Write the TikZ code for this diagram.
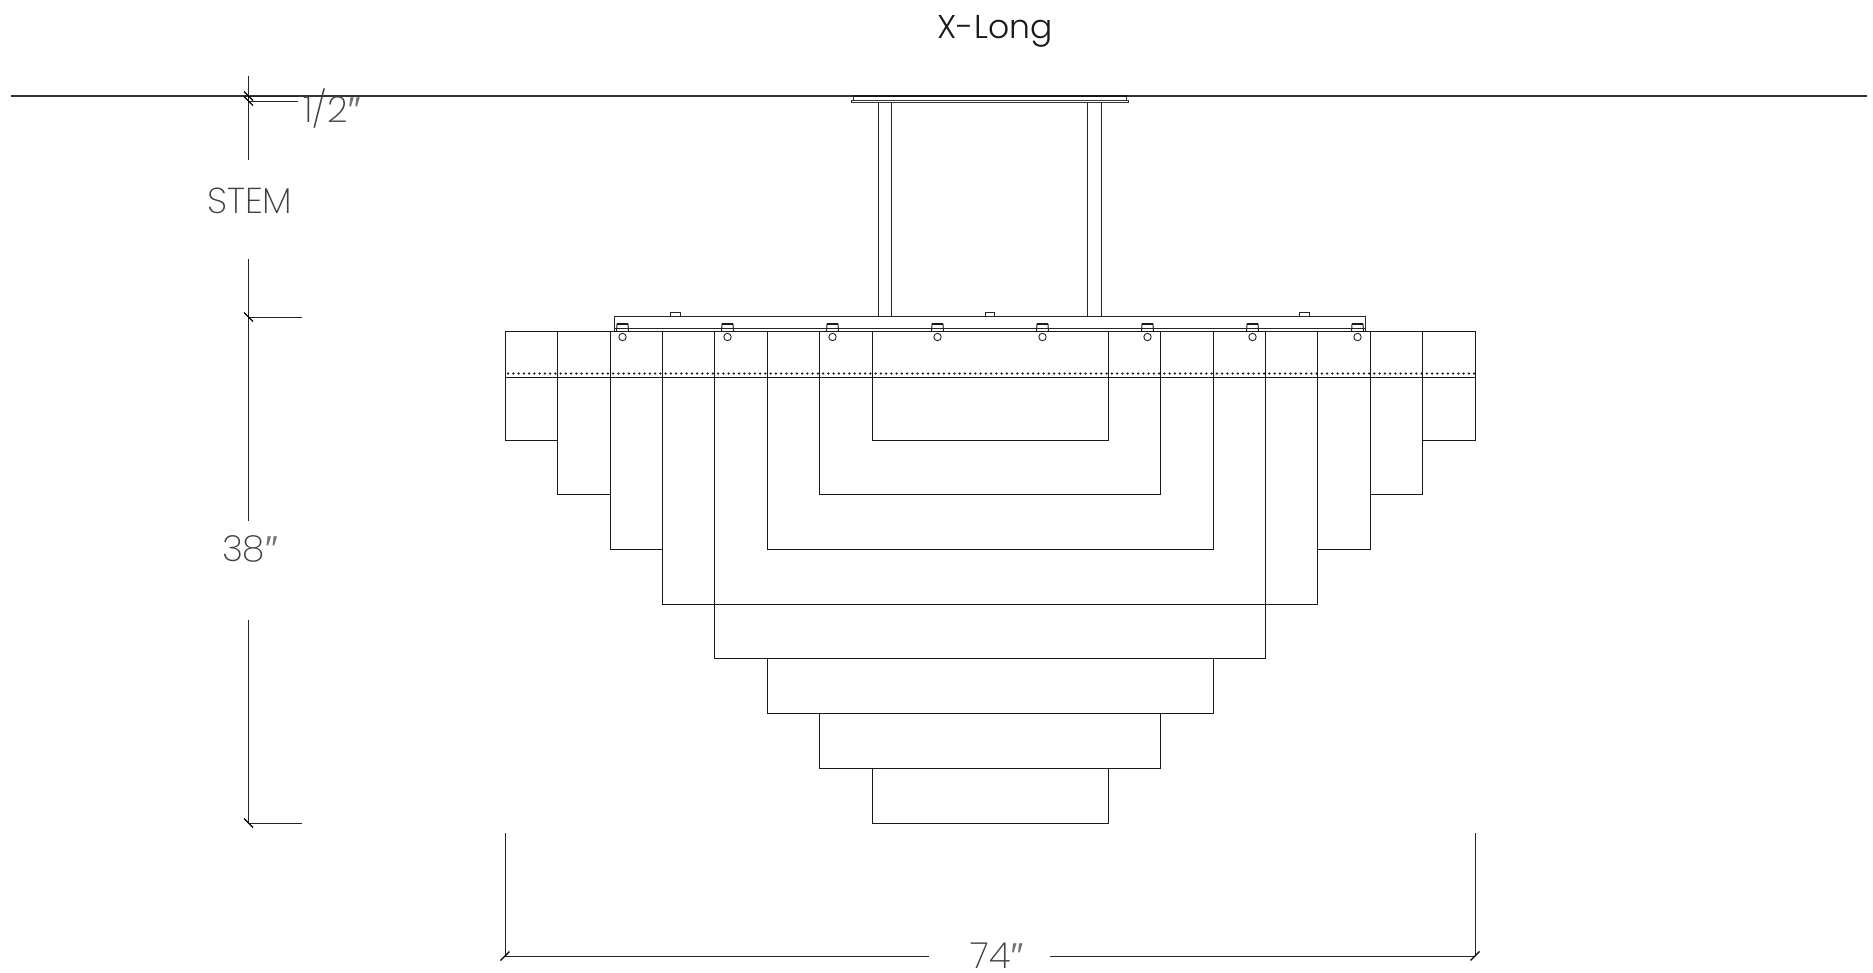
\documentclass[tikz,border=0pt]{standalone}
\usepackage{fontspec}
\setmainfont{Poppins Light}
\newfontfamily\thinf{Poppins ExtraLight}
\newfontfamily\primef{Liberation Sans}
\newcommand{\dblprime}{{\primef\color{black!55}″}}
\tikzset{
  x=1pt,y=-1pt,
  ln/.style={line width=1pt,draw=black!90,line cap=rect},
  hw/.style={line width=1pt,draw=black!85},
  dim/.style={line width=1pt,draw=black!85},
  tick/.style={line width=1.2pt,draw=black},
  lab/.style={inner sep=0pt,text=black!75,font=\thinf\fontsize{36}{36}\selectfont},
  title/.style={inner sep=0pt,text=black!90,font=\fontsize{33}{33}\selectfont},
  spot/.style={circle,fill=black!90,inner sep=0pt,minimum size=2.5pt}
}
\begin{document}
\begin{tikzpicture}
\useasboundingbox[fill=white] (0,0) rectangle (1873,972);
% ceiling
\draw[line width=1.1pt,draw=black!80] (11,96) -- (1867,96);
% canopy
\draw[line width=1pt,draw=black!80] (853.3,96) rectangle (1126.7,100.5);
\draw[line width=1pt,draw=black!80,fill=white] (851.5,100.5) rectangle (1128.5,102.5);
\draw[line width=1.6pt,black!90] (853.3,96) -- (1126.7,96);
% stems
\foreach \x in {878,891.7,1087.7,1101.3} \draw[hw] (\x,102.5) -- (\x,317);
% bar
\draw[hw] (614.3,331.5) -- (614.3,316.7) -- (1365,316.7) -- (1365,331.5);
\draw[hw] (614.3,328.3) -- (1365,328.3);
\foreach \x in {670.7,985,1299.3} \draw[hw] (\x,316.7) -- (\x,312.2) -- (\x+9.8,312.2) -- (\x+9.8,316.7);
% hooks
\foreach \x in {622.5,727.5,832.5,937.5,1042.5,1147.5,1252.5,1357.5}{
  \draw[hw] (\x-6,331.5) -- (\x-5.5,324) -- (\x+5.5,324) -- (\x+6,331.5);
  \draw[line width=1.5pt,black!90] (\x-5.5,324) -- (\x+5.5,324);
  \draw[line width=0.9pt,black!85,fill=white] (\x,337) circle (3.7);
}
% tiers
\draw[ln] (505,331.5) -- (1475,331.5);
\draw[ln] (505,377.5) -- (1475,377.5);
\draw[ln] (1475,331.5) -- (1475,440) -- (1422.5,440) -- (1422.5,331.5);
\draw[ln] (505,331.5) -- (505,440) -- (557.5,440) -- (557.5,331.5);
\draw[ln] (557.5,440) -- (557.5,494.5) -- (610,494.5) -- (610,331.5);
\draw[ln] (1422.5,440) -- (1422.5,494.5) -- (1370,494.5) -- (1370,331.5);
\draw[ln] (610,494.5) -- (610,549.5) -- (662.5,549.5) -- (662.5,331.5);
\draw[ln] (1370,494.5) -- (1370,549.5) -- (1317.5,549.5) -- (1317.5,331.5);
\draw[ln] (662.5,549.5) -- (662.5,604) -- (1317.5,604) -- (1317.5,549.5);
\draw[ln] (714.5,331.5) -- (714.5,658.5) -- (1265.5,658.5) -- (1265.5,331.5);
\draw[ln] (767,331.5) -- (767,549.5) -- (1213,549.5) -- (1213,331.5);
\draw[ln] (819.5,331.5) -- (819.5,494.5) -- (1160.5,494.5) -- (1160.5,331.5);
\draw[ln] (872,331.5) -- (872,440) -- (1108,440) -- (1108,331.5);
\draw[ln] (767,658.5) -- (767,713) -- (1213,713) -- (1213,658.5);
\draw[ln] (819.5,713) -- (819.5,768) -- (1160.5,768) -- (1160.5,713);
\draw[ln] (872,768) -- (872,823) -- (1108,823) -- (1108,768);
% dots
\foreach \i in {0,...,184} \node[spot] at (508+5.25*\i,373.5) {};
% left dimensions
\draw[dim] (248.5,76) -- (248.5,160);
\draw[dim] (248.5,259) -- (248.5,521);
\draw[dim] (248.5,620) -- (248.5,823);
\draw[dim] (248.5,96) -- (298,96);
\draw[dim] (248.5,101) -- (298,101);
\draw[dim] (248.5,317) -- (302,317);
\draw[dim] (248.5,823) -- (302,823);
\foreach \y in {96,101,317,823} \draw[tick] (244,\y-4.5) -- (253,\y+4.5);
% bottom dimension
\draw[dim] (505,833) -- (505,956);
\draw[dim] (1475,833) -- (1475,956);
\draw[dim] (505,956) -- (929,956);
\draw[dim] (1050,956) -- (1475,956);
\foreach \x in {505,1475} \draw[tick] (\x-4.5,960.5) -- (\x+4.5,951.5);
% labels
\node[title] (ttl) at (995,31) {X-Long};
\node[lab] (half) at (332,109) {1/2\dblprime};
\node[lab] (stem) at (250,201) {STEM};
\node[lab] (h38) at (250,549) {38\dblprime};
\node[lab] (w74) at (997,956) {74\dblprime};
\end{tikzpicture}
\end{document}
